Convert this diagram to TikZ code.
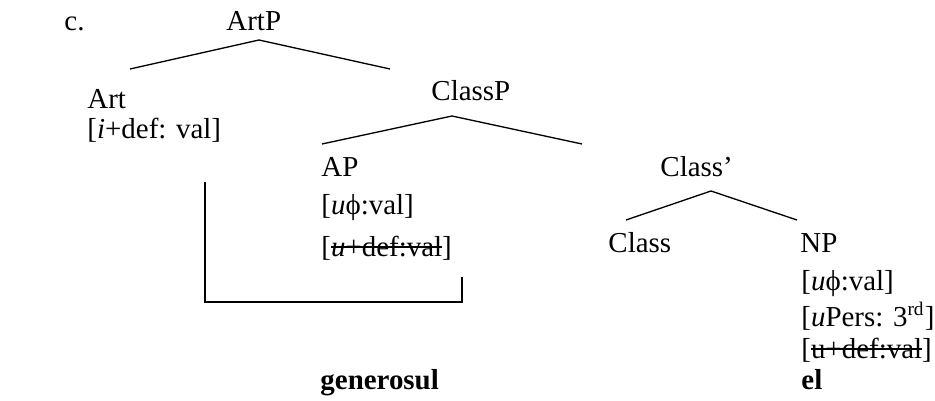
\documentclass[tikz,border=0pt]{standalone}
\usepackage{fontspec}
\setmainfont{Liberation Serif}
\newsavebox{\strkbox}
\newcommand{\strk}[1]{\sbox{\strkbox}{#1}\rlap{\usebox{\strkbox}}\rule[0.29em]{\wd\strkbox}{0.85pt}}

\begin{document}
\begin{tikzpicture}[x=0.415pt,y=-0.415pt]
  % 定义样式
  \tikzset{lbl/.style = {anchor=base west, inner sep=0pt, font=\fontsize{12}{14}\selectfont}}
  \tikzset{branch/.style = {draw, line width=0.55pt}}
  \tikzset{agree/.style = {draw, line width=0.8pt}}
  \useasboundingbox (0,0) rectangle (935,401);

  % 定义节点
  \node[lbl] (ex) at (64,31) {c.};
  \node[lbl] (artp) at (226,31) {ArtP};
  \node[lbl] (art) at (87,109) {Art};
  \node[lbl] (artf) at (87,139) {[\textit{i}+def: val]};
  \node[lbl] (classp) at (431,101) {ClassP};
  \node[lbl] (ap) at (321,177) {AP};
  \node[lbl] (apphi) at (321,214) {[\textit{u}ϕ:val]};
  \node[lbl] (apdef) at (321,256) {[\strk{\textit{u}+def:val}]};
  \node[lbl] (gen) at (320,389) {\textbf{generosul}};
  \node[lbl] (classbar) at (660,177) {Class’};
  \node[lbl] (class) at (608,252) {Class};
  \node[lbl] (np) at (800,252) {NP};
  \node[lbl] (npphi) at (801,290) {[\textit{u}ϕ:val]};
  \node[lbl] (nppers) at (801,326) {[\textit{u}Pers: 3\textsuperscript{rd}]};
  \node[lbl] (npdef) at (801,358) {[\strk{u+def:val}]};
  \node[lbl] (el) at (801,389) {\textbf{el}};

  % 定义树枝
  \coordinate (artp-top) at (259,40);
  \coordinate (art-end) at (130,69);
  \coordinate (classp-end) at (390,69);
  \coordinate (classp-top) at (452,116);
  \coordinate (ap-end) at (322,144);
  \coordinate (classbar-end) at (582,144);
  \coordinate (classbar-top) at (711,191);
  \coordinate (class-end) at (626,220);
  \coordinate (np-end) at (797,220);
  \draw[branch] (art-end) -- (artp-top) -- (classp-end);
  \draw[branch] (ap-end) -- (classp-top) -- (classbar-end);
  \draw[branch] (class-end) -- (classbar-top) -- (np-end);

  % 一致关系
  \coordinate (art-agr) at (205,182);
  \coordinate (ap-agr) at (462,277);
  \draw[agree] (art-agr) |- (ap-agr |- 0,302) -- (ap-agr);
\end{tikzpicture}
\end{document}
